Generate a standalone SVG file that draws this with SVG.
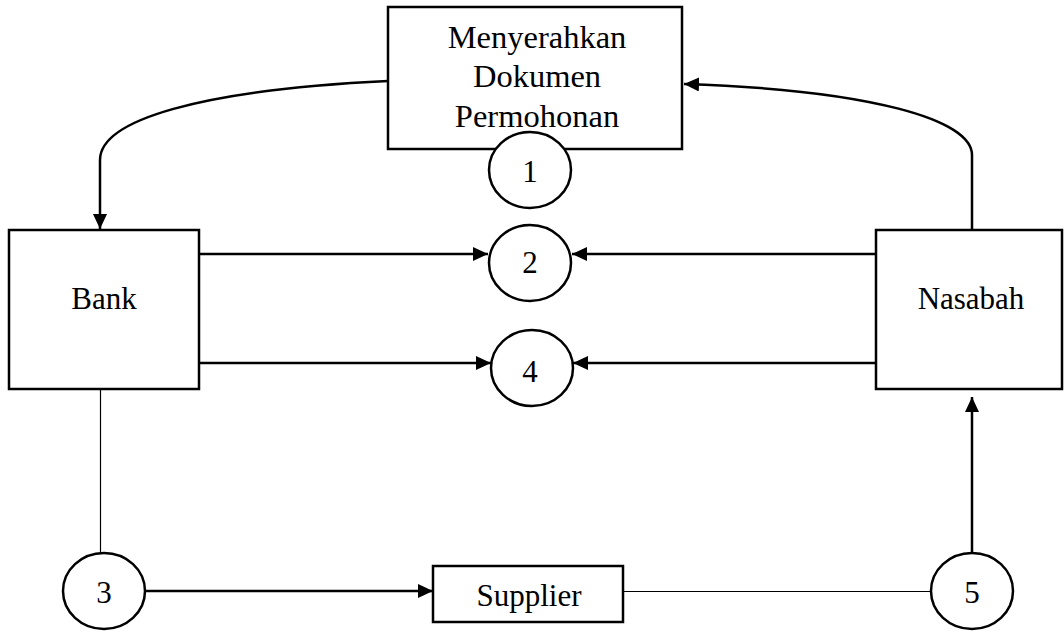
<svg xmlns="http://www.w3.org/2000/svg" width="1064" height="634" viewBox="0 0 1064 634">
<style>
.box{fill:#fff;stroke:#000;stroke-width:2.5}
.circ{fill:#fff;stroke:#000;stroke-width:2.5}
.lbl{font-family:"Liberation Serif","Times New Roman",serif;font-size:31px;fill:#000;text-anchor:middle}
.big{font-size:32.5px}
.thick{fill:none;stroke:#000;stroke-width:2.5}
.thin{fill:none;stroke:#000;stroke-width:1.2}
</style>
<defs>
<marker id="arr" markerUnits="userSpaceOnUse" markerWidth="16" markerHeight="14" refX="15" refY="7" orient="auto">
<path d="M0,0 L15,7 L0,14 Z" fill="#000"/>
</marker>
</defs>
<rect width="1064" height="634" fill="#fff"/>
<g id="connectors">
<path class="thick" d="M388,81 C200,90 100,120 100,160 L100,229" marker-end="url(#arr)"/>
<path class="thick" d="M972,230 L972,155 C972,120 872,90 684,84" marker-end="url(#arr)"/>
<path class="thick" d="M199,254 L488,254" marker-end="url(#arr)"/>
<path class="thick" d="M876,254 L572,254" marker-end="url(#arr)"/>
<path class="thick" d="M199,363 L491,363" marker-end="url(#arr)"/>
<path class="thick" d="M876,363 L573,363" marker-end="url(#arr)"/>
<path class="thin" d="M100.5,389 L100.5,553"/>
<path class="thick" d="M146,591 L433,591" marker-end="url(#arr)"/>
<path class="thin" d="M623,591.5 L931,591.5"/>
<path class="thick" d="M972,553 L972,397" marker-end="url(#arr)"/>
</g>
<g id="node-dokumen">
<rect class="box" x="388" y="7" width="294" height="142"/>
<text class="lbl big" x="537" y="48">Menyerahkan</text>
<text class="lbl big" x="537" y="87">Dokumen</text>
<text class="lbl big" x="537" y="127">Permohonan</text>
</g>
<g id="node-1">
<ellipse class="circ" cx="530" cy="170" rx="41" ry="38"/>
<text class="lbl" x="530" y="182">1</text>
</g>
<g id="node-bank">
<rect class="box" x="9" y="230" width="190" height="159"/>
<text class="lbl" x="104" y="309">Bank</text>
</g>
<g id="node-nasabah">
<rect class="box" x="876" y="230" width="186" height="159"/>
<text class="lbl" x="971" y="309">Nasabah</text>
</g>
<g id="node-2">
<ellipse class="circ" cx="530" cy="263" rx="41" ry="38"/>
<text class="lbl" x="530" y="273">2</text>
</g>
<g id="node-4">
<ellipse class="circ" cx="532" cy="368" rx="41" ry="38"/>
<text class="lbl" x="530" y="382">4</text>
</g>
<g id="node-3">
<ellipse class="circ" cx="104" cy="591" rx="41" ry="38"/>
<text class="lbl" x="104" y="603">3</text>
</g>
<g id="node-supplier">
<rect class="box" x="433" y="566" width="190" height="56"/>
<text class="lbl" x="529" y="606">Supplier</text>
</g>
<g id="node-5">
<ellipse class="circ" cx="972" cy="591" rx="41" ry="38"/>
<text class="lbl" x="972" y="603">5</text>
</g>
</svg>
